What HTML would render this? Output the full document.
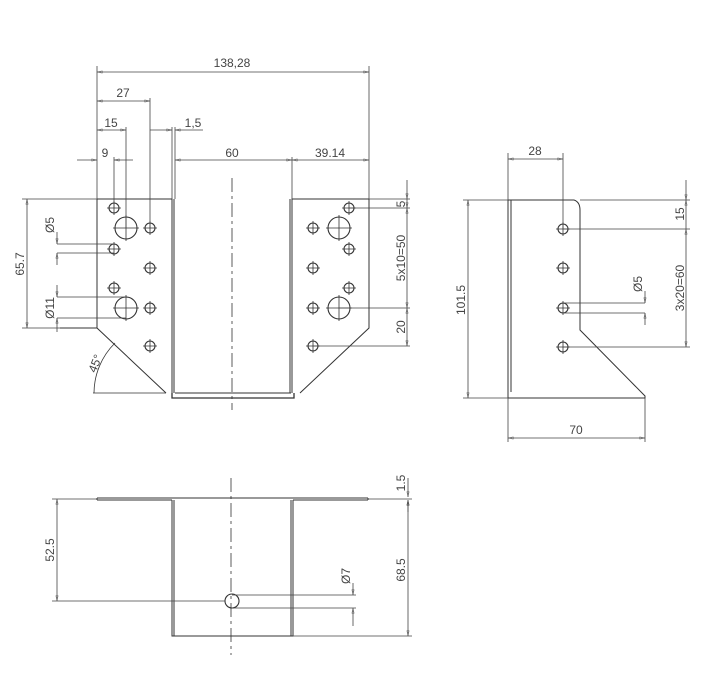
<!DOCTYPE html>
<html><head><meta charset="utf-8"><style>
html,body{margin:0;padding:0;background:#fff;}
svg{display:block;}
text{font-family:"Liberation Sans",sans-serif;font-size:12px;fill:#444;}
</style></head><body>
<svg width="717" height="681" viewBox="0 0 717 681" xmlns="http://www.w3.org/2000/svg">
<defs>
<marker id="a" viewBox="0 0 10 6" refX="10" refY="3" markerWidth="8" markerHeight="4" orient="auto-start-reverse"><path d="M0,0.8 L10,3 L0,5.2 Z" fill="none" stroke="#555" stroke-width="0.8"/></marker>
<g id="sh"><circle r="5" fill="none" stroke="#333" stroke-width="1.1"/><path d="M-7,0H7M0,-7V7" stroke="#333" stroke-width="0.8"/></g>
<g id="bh"><circle r="11" fill="none" stroke="#333" stroke-width="1.1"/><path d="M-13,0H13M0,-13V13" stroke="#333" stroke-width="0.8"/></g>
</defs>
<g fill="none" stroke="#333" stroke-width="1">
<!-- FRONT VIEW -->
<path d="M97,199 H172 V393 M97,199 V328 L166,393 M60,328 H97"/>
<path d="M174,199 V393"/>
<path d="M172,393 V398 H294 V393" stroke-width="1.3"/>
<path d="M175,393 H291"/>
<path d="M369,199 H292 V393 M369,199 V328 L300,393"/>
<path d="M290,199 V393"/>
<path d="M232,178 V410" stroke-dasharray="14,4,3,4" stroke-width="0.8"/>
<path d="M93,393 H166" stroke-width="0.8"/>
<path d="M94,393 A71,71 0 0 1 115,343" stroke-width="0.8"/>
</g>
<use href="#sh" x="114" y="208"/><use href="#sh" x="150" y="228"/><use href="#sh" x="114" y="249"/>
<use href="#sh" x="150" y="268"/><use href="#sh" x="114" y="288"/><use href="#sh" x="150" y="308"/><use href="#sh" x="150" y="346"/>
<use href="#bh" x="126" y="228"/><use href="#bh" x="126" y="308"/>
<use href="#sh" x="349" y="208"/><use href="#sh" x="313" y="228"/><use href="#sh" x="349" y="249"/>
<use href="#sh" x="313" y="268"/><use href="#sh" x="349" y="288"/><use href="#sh" x="313" y="308"/><use href="#sh" x="313" y="346"/>
<use href="#bh" x="339" y="228"/><use href="#bh" x="339" y="308"/>

<g fill="none" stroke="#444" stroke-width="0.8">
<path d="M97,66 V199 M369,66 V199 M150,98 V228 M126,127 V228 M114,157 V208 M172,127 V199 M175,127 V199 M292,157 V199"/>
<path d="M97,72 H369" marker-start="url(#a)" marker-end="url(#a)"/>
<path d="M97,101 H150" marker-start="url(#a)" marker-end="url(#a)"/>
<path d="M97,130 H126" marker-start="url(#a)" marker-end="url(#a)"/>
<path d="M150,130 H172" marker-end="url(#a)"/><path d="M203,130 H175" marker-end="url(#a)"/>
<path d="M77,160 H97" marker-end="url(#a)"/><path d="M133,160 H114" marker-end="url(#a)"/>
<path d="M175,160 H292" marker-start="url(#a)" marker-end="url(#a)"/>
<path d="M292,160 H369" marker-start="url(#a)" marker-end="url(#a)"/>
<path d="M22,199 H97 M22,328 H60"/>
<path d="M27,199 V328" marker-start="url(#a)" marker-end="url(#a)"/>
<path d="M57,244 H114 M57,253 H114"/>
<path d="M57,232 V244" marker-end="url(#a)"/><path d="M57,265 V253" marker-end="url(#a)"/>
<path d="M57,297 H126 M57,318 H126"/>
<path d="M57,285 V297" marker-end="url(#a)"/><path d="M57,332 V318" marker-end="url(#a)"/>
<path d="M369,199 H410 M349,208 H410 M339,308 H410 M313,346 H410"/>
<path d="M407,180 V199" marker-end="url(#a)"/><path d="M407,199 V208" marker-end="url(#a)"/>
<path d="M407,208 V308" marker-start="url(#a)" marker-end="url(#a)"/>
<path d="M407,308 V346" marker-start="url(#a)" marker-end="url(#a)"/>
</g>
<text x="232" y="67" text-anchor="middle">138,28</text>
<text x="123" y="97" text-anchor="middle">27</text>
<text x="111" y="127" text-anchor="middle">15</text>
<text x="193" y="127" text-anchor="middle">1,5</text>
<text x="105" y="157" text-anchor="middle">9</text>
<text x="232" y="157" text-anchor="middle">60</text>
<text x="330" y="157" text-anchor="middle">39.14</text>
<text transform="translate(24,264) rotate(-90)" text-anchor="middle">65.7</text>
<text transform="translate(54,225) rotate(-90)" text-anchor="middle">Ø5</text>
<text transform="translate(54,308) rotate(-90)" text-anchor="middle">Ø11</text>
<text transform="translate(99,365) rotate(-68)" text-anchor="middle">45°</text>
<text transform="translate(405,204) rotate(-90)" text-anchor="middle">5</text>
<text transform="translate(405,258) rotate(-90)" text-anchor="middle">5x10=50</text>
<text transform="translate(405,327) rotate(-90)" text-anchor="middle">20</text>

<!-- SIDE VIEW -->
<g fill="none" stroke="#333" stroke-width="1">
<path d="M508,200 H574 Q580,202 580,210 V330 L645,396 V398 H508 Z"/>
<path d="M511,200 V392"/>
</g>
<use href="#sh" x="563" y="229"/><use href="#sh" x="563" y="268"/><use href="#sh" x="563" y="308"/><use href="#sh" x="563" y="347"/>
<g fill="none" stroke="#444" stroke-width="0.8">
<path d="M508,153 V200 M563,153 V229 M508,398 V442 M645,398 V442"/>
<path d="M508,159 H563" marker-start="url(#a)" marker-end="url(#a)"/>
<path d="M463,200 H508 M463,398 H508"/>
<path d="M468,200 V398" marker-start="url(#a)" marker-end="url(#a)"/>
<path d="M508,438 H645" marker-start="url(#a)" marker-end="url(#a)"/>
<path d="M580,200 H690 M563,229 H690 M563,347 H690"/>
<path d="M686,180 V200" marker-end="url(#a)"/><path d="M686,229 V200" marker-end="url(#a)"/>
<path d="M686,229 V347" marker-start="url(#a)" marker-end="url(#a)"/>
<path d="M563,303 H645 M563,313 H645"/>
<path d="M645,291 V303" marker-end="url(#a)"/><path d="M645,325 V313" marker-end="url(#a)"/>
</g>
<text x="535" y="155" text-anchor="middle">28</text>
<text transform="translate(465,300) rotate(-90)" text-anchor="middle">101.5</text>
<text x="576" y="434" text-anchor="middle">70</text>
<text transform="translate(684,214) rotate(-90)" text-anchor="middle">15</text>
<text transform="translate(684,288) rotate(-90)" text-anchor="middle">3x20=60</text>
<text transform="translate(642,284) rotate(-90)" text-anchor="middle">Ø5</text>

<!-- BOTTOM VIEW -->
<g fill="none" stroke="#333" stroke-width="1">
<path d="M97,498 H368 M97,500 H172 M293,500 H368 M97,498 V500 M368,498 V500"/>
<path d="M172,500 V636 H293 V500"/>
<path d="M174,500 V636 M291,500 V636"/>
<path d="M231,478 V655" stroke-dasharray="14,4,3,4" stroke-width="0.8"/>
<circle cx="232" cy="601" r="7" stroke-width="1.1"/>
</g>
<g fill="none" stroke="#444" stroke-width="0.8">
<path d="M52,499 H97 M52,601 H225"/>
<path d="M57,499 V601" marker-start="url(#a)" marker-end="url(#a)"/>
<path d="M368,499 H412 M293,636 H412"/>
<path d="M408,478 V497" marker-end="url(#a)"/><path d="M408,512 V500" marker-end="url(#a)"/>
<path d="M408,500 V636" marker-start="url(#a)" marker-end="url(#a)"/>
<path d="M232,595 H356 M232,608 H356"/>
<path d="M353,583 V595" marker-end="url(#a)"/><path d="M353,626 V608" marker-end="url(#a)"/>
</g>
<text transform="translate(54,550) rotate(-90)" text-anchor="middle">52.5</text>
<text transform="translate(405,483) rotate(-90)" text-anchor="middle">1.5</text>
<text transform="translate(405,570) rotate(-90)" text-anchor="middle">68.5</text>
<text transform="translate(350,576) rotate(-90)" text-anchor="middle">Ø7</text>
</svg>
</body></html>
